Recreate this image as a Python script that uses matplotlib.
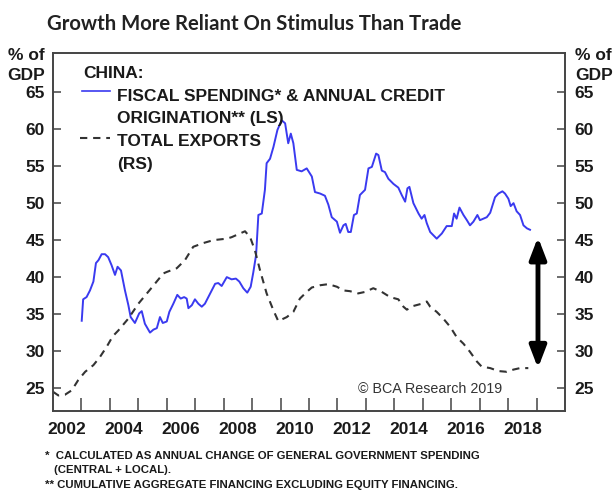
import matplotlib
matplotlib.use("Agg")
import matplotlib.pyplot as plt
from matplotlib.patches import FancyArrowPatch

# fiscal spending + credit origination, % of GDP (left scale)
fiscal_x = [2003.01, 2003.06, 2003.18, 2003.30, 2003.42, 2003.51, 2003.60, 2003.71, 2003.83, 2003.94,
            2004.06, 2004.18, 2004.27, 2004.39, 2004.53, 2004.65, 2004.73, 2004.88, 2005.03, 2005.12,
            2005.23, 2005.41, 2005.53, 2005.65, 2005.76, 2005.86, 2006.00, 2006.09, 2006.23, 2006.37,
            2006.49, 2006.61, 2006.70, 2006.76, 2006.88, 2006.99, 2007.11, 2007.23, 2007.34, 2007.46,
            2007.58, 2007.70, 2007.81, 2007.93, 2008.11, 2008.28, 2008.43, 2008.55, 2008.69, 2008.83,
            2008.95, 2009.04, 2009.14, 2009.22, 2009.34, 2009.45, 2009.51, 2009.63, 2009.75, 2009.89,
            2010.04, 2010.16, 2010.27, 2010.36, 2010.45, 2010.57, 2010.74, 2010.92, 2011.10, 2011.21,
            2011.39, 2011.56, 2011.68, 2011.80, 2011.98, 2012.09, 2012.21, 2012.29, 2012.38, 2012.47,
            2012.58, 2012.68, 2012.79, 2012.97, 2013.09, 2013.21, 2013.36, 2013.44, 2013.56, 2013.67,
            2013.79, 2013.97, 2014.14, 2014.26, 2014.38, 2014.46, 2014.53, 2014.67, 2014.85, 2014.96,
            2015.06, 2015.14, 2015.26, 2015.49, 2015.67, 2015.84, 2016.02, 2016.10, 2016.19, 2016.29,
            2016.43, 2016.55, 2016.66, 2016.78, 2016.92, 2017.01, 2017.25, 2017.37, 2017.54, 2017.66,
            2017.80, 2017.89, 2018.01, 2018.09, 2018.19, 2018.30, 2018.42, 2018.54, 2018.66, 2018.77]
fiscal_y = [34.1, 37.0, 37.3, 38.2, 39.4, 41.9, 42.3, 43.1, 43.1, 42.7,
            41.6, 40.3, 41.4, 40.9, 38.2, 36.2, 34.6, 33.8, 35.1, 35.4,
            33.7, 32.5, 32.9, 33.1, 34.6, 33.8, 34.0, 35.3, 36.4, 37.6,
            37.1, 37.3, 37.1, 35.8, 36.2, 37.0, 36.4, 36.0, 36.4, 37.3,
            38.2, 39.1, 39.2, 38.8, 40.0, 39.7, 39.8, 39.4, 38.5, 37.9,
            38.7, 40.6, 43.0, 48.4, 48.6, 51.8, 55.4, 56.0, 57.6, 59.9,
            61.2, 60.8, 58.1, 59.4, 58.1, 54.5, 54.3, 54.7, 53.6, 51.5,
            51.3, 51.0, 49.8, 48.1, 47.5, 46.0, 47.0, 47.2, 46.1, 46.1,
            48.4, 48.6, 51.1, 51.8, 54.7, 54.9, 56.7, 56.5, 54.4, 54.2,
            53.3, 52.6, 52.1, 51.1, 50.2, 52.0, 52.2, 50.0, 48.6, 47.9,
            48.4, 47.3, 46.1, 45.2, 45.9, 46.9, 46.9, 48.6, 47.9, 49.4,
            48.4, 47.7, 47.0, 47.5, 48.4, 47.7, 48.1, 48.7, 50.8, 51.3,
            51.6, 51.3, 50.6, 49.6, 50.0, 48.9, 48.4, 47.0, 46.6, 46.4]

# total exports, % of GDP (right scale)
exports_x = [2002.00, 2002.19, 2002.42, 2002.66, 2002.89, 2003.13, 2003.42, 2003.65, 2003.89, 2004.10,
             2004.30, 2004.65, 2005.00, 2005.41, 2005.88, 2006.00, 2006.35, 2006.64, 2006.93, 2007.28,
             2007.64, 2008.11, 2008.28, 2008.75, 2008.93, 2009.10, 2009.28, 2009.51, 2009.75, 2009.92,
             2010.22, 2010.45, 2010.68, 2010.92, 2011.10, 2011.21, 2011.39, 2011.68, 2011.98, 2012.21,
             2012.44, 2012.73, 2012.97, 2013.26, 2013.56, 2013.85, 2014.14, 2014.32, 2014.44, 2014.67,
             2014.96, 2015.14, 2015.26, 2015.49, 2015.72, 2015.96, 2016.19, 2016.43, 2016.66, 2016.90,
             2017.07, 2017.37, 2017.66, 2017.95, 2018.19, 2018.42, 2018.71]
exports_y = [24.5, 24.0, 24.1, 24.7, 26.1, 27.2, 28.1, 29.2, 30.6, 32.0,
             32.8, 34.4, 36.4, 38.3, 40.5, 40.7, 41.2, 42.3, 44.1, 44.6,
             45.0, 45.2, 45.4, 46.2, 45.4, 43.6, 40.9, 37.8, 35.5, 34.05,
             34.6, 35.3, 37.1, 38.0, 38.6, 38.7, 38.9, 39.05, 38.7, 38.2,
             38.1, 37.8, 38.0, 38.5, 38.0, 37.3, 37.0, 36.0, 35.6, 36.1,
             36.4, 36.7, 36.0, 35.3, 34.4, 33.3, 31.9, 31.0, 29.9, 28.6,
             27.9, 27.7, 27.3, 27.2, 27.5, 27.7, 27.7]

year_labels = [str(y) for y in range(2002, 2019, 2)]
y_ticks = [25, 30, 35, 40, 45, 50, 55, 60, 65]
arrow_x = 2019.05
arrow_span = (45.4, 27.7)

W, H = 616, 494
DARK = "#1a1a1a"
BLUE = "#3a3af0"
FONT = "Liberation Sans"
FS = 12.5


def fx(px):
    return px / W


def fy(py):
    return 1 - py / H


fig = plt.figure(figsize=(W / 100, H / 100), dpi=100)
ax = fig.add_axes([fx(53), fy(411), fx(565) - fx(53), fy(53) - fy(411)])
ax2 = ax.twinx()

ax.plot(fiscal_x, fiscal_y, color=BLUE, lw=1.4, zorder=3)
ax2.plot(exports_x, exports_y, color="#333333", lw=1.5, dashes=(3.5, 2.8))

for a in (ax, ax2):
    a.set_xlim(2002, 2020)
    a.set_ylim(21.9, 70.3)
    a.set_yticks(y_ticks)
    for s in a.spines.values():
        s.set_color("#444444")
        s.set_linewidth(1.2)

ax.set_yticklabels([str(v) for v in y_ticks], fontfamily=FONT, fontweight="bold",
                   fontsize=FS, color=DARK)
ax2.set_yticklabels([str(v) for v in y_ticks], fontfamily=FONT, fontweight="bold",
                    fontsize=FS, color=DARK)
ax.tick_params(axis="y", direction="in", length=6, width=1.1, color="#444444", pad=6)
ax2.tick_params(axis="y", direction="in", length=6, width=1.1, color="#444444", pad=7)

# years labelled mid-interval, ticks at year boundaries
ax.set_xticks([int(y) + 0.5 for y in year_labels])
ax.set_xticklabels(year_labels, fontfamily=FONT, fontweight="bold", fontsize=FS, color=DARK)
ax.set_xticks(range(2003, 2020), minor=True)
ax.tick_params(axis="x", which="major", length=0, pad=8)
ax.tick_params(axis="x", which="minor", direction="in", length=9.5, width=1.1, color="#444444")

arrow = FancyArrowPatch((arrow_x, arrow_span[0]), (arrow_x, arrow_span[1]),
                        arrowstyle="<|-|>,head_length=1.3,head_width=0.5",
                        mutation_scale=10, lw=3.5, color="black",
                        shrinkA=0, shrinkB=0, zorder=4)
ax2.add_patch(arrow)

# title and unit labels
fig.text(fx(47), fy(24), "Growth More Reliant On Stimulus Than Trade", fontfamily="Lato",
         fontweight="bold", fontsize=14.6, color="#222222", ha="left", va="center")
for x, ha in ((45, "right"), (575, "left")):
    fig.text(fx(x), fy(55), "% of", fontfamily=FONT, fontweight="bold", fontsize=FS,
             color=DARK, ha=ha, va="center")
    fig.text(fx(x), fy(76), "GDP", fontfamily=FONT, fontweight="bold", fontsize=FS,
             color=DARK, ha=ha, va="center")

# legend drawn by hand
fig.add_artist(plt.Line2D([fx(82), fx(110)], [fy(91), fy(91)], color=BLUE, lw=1.2))
fig.add_artist(plt.Line2D([fx(80), fx(110)], [fy(138), fy(138)], color="#333333", lw=1.5,
                          dashes=(3.5, 2.8)))
legend_lines = [(83, 73, "CHINA:"),
                (117, 96, "FISCAL SPENDING* & ANNUAL CREDIT"),
                (117, 119, "ORIGINATION** (LS)"),
                (117, 142, "TOTAL EXPORTS"),
                (117, 165, "(RS)")]
for x, y, s in legend_lines:
    fig.text(fx(x), fy(y), s, fontfamily=FONT, fontweight="bold", fontsize=FS,
             color=DARK, ha="left", va="center")

fig.text(fx(358), fy(389), "\u00a9 BCA Research 2019", fontfamily=FONT, fontsize=10.3,
         color="#333333", ha="left", va="center")

notes = [(45, 456, "*  CALCULATED AS ANNUAL CHANGE OF GENERAL GOVERNMENT SPENDING"),
         (54, 470, "(CENTRAL + LOCAL)."),
         (45, 485, "** CUMULATIVE AGGREGATE FINANCING EXCLUDING EQUITY FINANCING.")]
for x, y, s in notes:
    fig.text(fx(x), fy(y), s, fontfamily=FONT, fontweight="bold", fontsize=8.2,
             color=DARK, ha="left", va="center")

fig.savefig("out.png", dpi=100, facecolor="white")
